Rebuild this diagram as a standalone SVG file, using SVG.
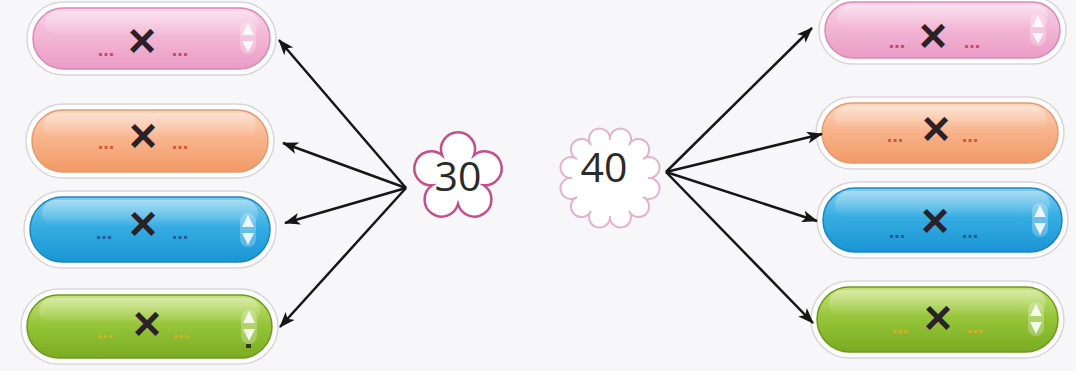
<svg xmlns="http://www.w3.org/2000/svg" width="1076" height="371" viewBox="0 0 1076 371">
<defs>
<linearGradient id="gPink" x1="0" y1="0" x2="0" y2="1"><stop offset="0" stop-color="#f7d3e6"/><stop offset="0.45" stop-color="#f3b7d5"/><stop offset="1" stop-color="#ea9cc6"/></linearGradient>
<linearGradient id="gOrange" x1="0" y1="0" x2="0" y2="1"><stop offset="0" stop-color="#fbd6bf"/><stop offset="0.45" stop-color="#f8b48c"/><stop offset="1" stop-color="#f19a66"/></linearGradient>
<linearGradient id="gBlue" x1="0" y1="0" x2="0" y2="1"><stop offset="0" stop-color="#7fcdf0"/><stop offset="0.45" stop-color="#36ade2"/><stop offset="1" stop-color="#1a95d4"/></linearGradient>
<linearGradient id="gGreen" x1="0" y1="0" x2="0" y2="1"><stop offset="0" stop-color="#c6e27a"/><stop offset="0.45" stop-color="#97c63a"/><stop offset="1" stop-color="#7aab22"/></linearGradient>
<linearGradient id="gloss" x1="0" y1="0" x2="0" y2="1"><stop offset="0" stop-color="#ffffff" stop-opacity="0.35"/><stop offset="1" stop-color="#ffffff" stop-opacity="0"/></linearGradient>
<marker id="ah" markerWidth="16" markerHeight="12" refX="15" refY="6" orient="auto" markerUnits="userSpaceOnUse"><path d="M0,0 L16,6 L0,12 L4,6 Z" fill="#161616"/></marker>
<style>
.rim{fill:#ffffff;stroke:#d9d6da;stroke-width:1.5}
.pink{fill:url(#gPink);stroke:#d88ab4;stroke-width:1.5}
.orange{fill:url(#gOrange);stroke:#e49a70;stroke-width:1.5}
.blue{fill:url(#gBlue);stroke:#1b86c0;stroke-width:1.5}
.green{fill:url(#gGreen);stroke:#6d9a1e;stroke-width:1.5}
.gloss{fill:url(#gloss)}
.x{font-family:"Liberation Sans",Arial,sans-serif;font-size:48px;font-weight:bold;fill:#2a2228;text-anchor:middle}
.d{font-family:"Liberation Sans",Arial,sans-serif;font-size:20px;font-weight:bold;text-anchor:middle}
.dp{fill:#d8425e}.do{fill:#d0583a}.db{fill:#1c5c98}.dg{fill:#d8b020}
.tri{fill:#ffffff;fill-opacity:0.85}
.cap{fill:#ffffff;fill-opacity:0.25}
.arr{stroke:#161616;stroke-width:2.5;fill:none;marker-end:url(#ah)}
.num{font-family:"Open Sans","Noto Sans",sans-serif;font-size:41px;fill:#2b2b2b;text-anchor:middle}
</style>
</defs>
<rect width="1076" height="371" fill="#f7f6f8"/>

<g id="L1">
<rect class="rim" x="27" y="2" width="249" height="73" rx="36.5"/>
<rect class="pink" x="33" y="8" width="237" height="61" rx="30.5"/>
<rect class="gloss" x="45" y="11" width="213" height="26" rx="13"/>
<rect class="cap" x="240" y="22" width="16" height="32" rx="8"/>
<polygon class="tri" points="242,35 254,35 248,24"/><polygon class="tri" points="242,41 254,41 248,52"/>
<text class="x" x="142" y="57">×</text>
<text class="d dp" x="106" y="56">...</text><text class="d dp" x="180" y="56">...</text>
</g>

<g id="L2">
<rect class="rim" x="26" y="104" width="248" height="74" rx="37"/>
<rect class="orange" x="32" y="110" width="236" height="62" rx="31"/>
<rect class="gloss" x="44" y="113" width="212" height="26" rx="13"/>
<text class="x" x="143" y="152">×</text>
<text class="d do" x="106" y="149">...</text><text class="d do" x="180" y="149">...</text>
</g>

<g id="L3">
<rect class="rim" x="24" y="191" width="252" height="77" rx="38.5"/>
<rect class="blue" x="30" y="197" width="240" height="65" rx="32.5"/>
<rect class="gloss" x="42" y="200" width="216" height="27" rx="13.5"/>
<rect class="cap" x="240" y="213" width="16" height="34" rx="8"/>
<polygon class="tri" points="242,227 254,227 248,215"/><polygon class="tri" points="242,233 254,233 248,245"/>
<text class="x" x="143" y="240">×</text>
<text class="d db" x="104" y="239">...</text><text class="d db" x="180" y="239">...</text>
</g>

<g id="L4">
<rect class="rim" x="21" y="289" width="257" height="75" rx="37.5"/>
<rect class="green" x="27" y="295" width="245" height="63" rx="31.5"/>
<rect class="gloss" x="39" y="298" width="221" height="26" rx="13"/>
<rect class="cap" x="241" y="310" width="16" height="34" rx="8"/>
<polygon class="tri" points="243,323 255,323 249,311"/><polygon class="tri" points="243,329 255,329 249,341"/>
<rect x="246" y="344" width="5" height="4" fill="#2d3a10"/>
<text class="x" x="147" y="340">×</text>
<text class="d dg" x="105" y="338">...</text><text class="d dg" x="181" y="338">...</text>
</g>

<g id="R1">
<rect class="rim" x="819" y="-3" width="247" height="67" rx="33.5"/>
<rect class="pink" x="825" y="2" width="235" height="56" rx="28"/>
<rect class="gloss" x="837" y="5" width="211" height="24" rx="12"/>
<rect class="cap" x="1030" y="14" width="16" height="32" rx="8"/>
<polygon class="tri" points="1032,27 1044,27 1038,16"/><polygon class="tri" points="1032,33 1044,33 1038,44"/>
<text class="x" x="933" y="52">×</text>
<text class="d dp" x="897" y="48">...</text><text class="d dp" x="972" y="48">...</text>
</g>

<g id="R2">
<rect class="rim" x="816" y="97" width="248" height="72" rx="36"/>
<rect class="orange" x="822" y="103" width="236" height="60" rx="30"/>
<rect class="gloss" x="834" y="106" width="212" height="25" rx="12.5"/>
<text class="x" x="936" y="145">×</text>
<text class="d do" x="895" y="142">...</text><text class="d do" x="970" y="142">...</text>
</g>

<g id="R3">
<rect class="rim" x="817" y="182" width="251" height="76" rx="38"/>
<rect class="blue" x="823" y="188" width="239" height="64" rx="32"/>
<rect class="gloss" x="835" y="191" width="215" height="27" rx="13.5"/>
<rect class="cap" x="1032" y="203" width="16" height="34" rx="8"/>
<polygon class="tri" points="1034,217 1046,217 1040,205"/><polygon class="tri" points="1034,223 1046,223 1040,235"/>
<text class="x" x="935" y="237">×</text>
<text class="d db" x="897" y="238">...</text><text class="d db" x="970" y="238">...</text>
</g>

<g id="R4">
<rect class="rim" x="811" y="281" width="253" height="77" rx="38.5"/>
<rect class="green" x="817" y="287" width="241" height="65" rx="32.5"/>
<rect class="gloss" x="829" y="290" width="217" height="27" rx="13.5"/>
<rect class="cap" x="1028" y="302" width="16" height="34" rx="8"/>
<polygon class="tri" points="1030,316 1042,316 1036,304"/><polygon class="tri" points="1030,322 1042,322 1036,334"/>
<text class="x" x="938" y="334">×</text>
<text class="d dg" x="900" y="333">...</text><text class="d dg" x="975" y="333">...</text>
</g>

<g id="n30">
<path d="M442.1,155.2 A17,17 0 1 1 473.9,155.2 A17,17 0 1 1 483.7,185.3 A17,17 0 1 1 458,204 A17,17 0 1 1 432.3,185.3 A17,17 0 1 1 442.1,155.2 Z" fill="#ffffff" stroke="#c24f8c" stroke-width="2.5"/>
<text class="num" x="458" y="191">30</text>
</g>

<g id="n40">
<path d="M648,178 A10.5,10.5 0 1 1 642.9,197 A10.5,10.5 0 1 1 629,210.9 A10.5,10.5 0 1 1 610,216 A10.5,10.5 0 1 1 591,210.9 A10.5,10.5 0 1 1 577.1,197 A10.5,10.5 0 1 1 572,178 A10.5,10.5 0 1 1 577.1,159 A10.5,10.5 0 1 1 591,145.1 A10.5,10.5 0 1 1 610,140 A10.5,10.5 0 1 1 629,145.1 A10.5,10.5 0 1 1 642.9,159 A10.5,10.5 0 1 1 648,178 Z" fill="#ffffff" stroke="#e2b4cc" stroke-width="2"/>
<text class="num" x="604" y="182">40</text>
</g>

<g id="connectors">
<line class="arr" x1="406" y1="188" x2="279" y2="40"/>
<line class="arr" x1="406" y1="188" x2="283" y2="143"/>
<line class="arr" x1="406" y1="188" x2="285" y2="223"/>
<line class="arr" x1="406" y1="188" x2="280" y2="327"/>
<line class="arr" x1="666" y1="172" x2="812" y2="28"/>
<line class="arr" x1="666" y1="172" x2="822" y2="134"/>
<line class="arr" x1="666" y1="172" x2="817" y2="221"/>
<line class="arr" x1="666" y1="172" x2="813" y2="323"/>
</g>
</svg>
